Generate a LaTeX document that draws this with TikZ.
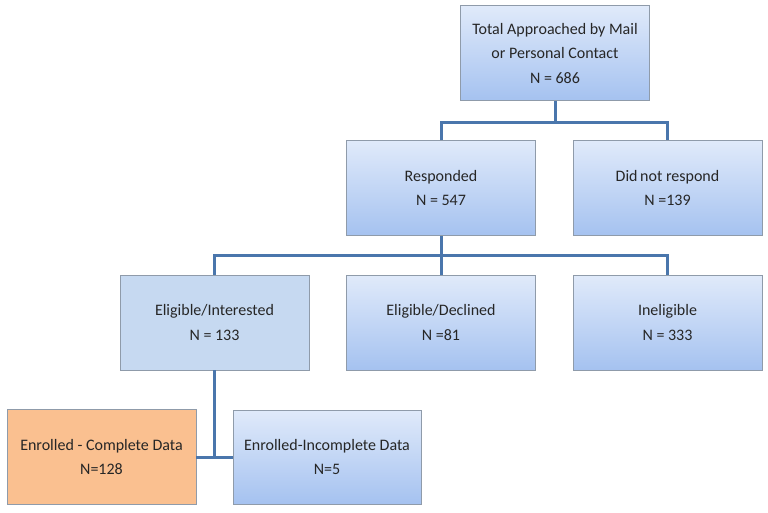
\documentclass[tikz,border=0pt]{standalone}
\usepackage{fontspec}
\setmainfont{Carlito}
\definecolor{conn}{HTML}{4A76AC}
\definecolor{gtop}{HTML}{E0EAFA}
\definecolor{gbot}{HTML}{A5C2F0}
\definecolor{flat}{HTML}{C6D9F1}
\definecolor{orng}{HTML}{FAC090}
\definecolor{bord}{HTML}{8F9BAA}
\definecolor{txt}{HTML}{262626}
\begin{document}
\begin{tikzpicture}[x=1pt,y=-1pt,
  box/.style={draw=bord, line width=0.8pt, minimum width=189pt, minimum height=95pt,
    align=center, inner sep=0pt, text=txt, font=\fontsize{16}{24.5}\selectfont},
  gbox/.style={box, top color=gtop, bottom color=gbot},
  link/.style={draw=conn, line width=3pt}]
\useasboundingbox (0,0) rectangle (768,512);
\node[gbox] (top) at (555,53) {Total Approached by Mail\\or Personal Contact\\N = 686};
\node[gbox] (resp) at (441,188) {Responded\\N = 547};
\node[gbox] (dnr) at (667.5,188) {Did\,not respond\\N =139};
\node[box, fill=flat] (ei) at (214.5,322.5) {Eligible/Interested\\N = 133};
\node[gbox] (ed) at (441,322.5) {Eligible/Declined\\N =81};
\node[gbox] (inel) at (667.5,322.5) {Ineligible\\N = 333};
\node[box, fill=orng] (ec) at (101.5,457) {Enrolled - Complete Data\\N=128};
\node[gbox, minimum width=188pt, minimum height=94pt] (ein) at (327,457) {Enrolled-Incomplete Data\\N=5};
\coordinate (j1) at (555,122);
\coordinate (j2) at (441,255);
\coordinate (j3) at (214.5,457);
\draw[link] (top.south) -- (j1);
\draw[link] (resp.north) |- (j1) -| (dnr.north);
\draw[link] (resp.south) -- (j2);
\draw[link] (ei.north) |- (j2) -| (inel.north);
\draw[link] (j2) -- (ed.north);
\draw[link] (ei.south) -- (j3);
\draw[link] (ec.east) -- (ein.west);
\end{tikzpicture}
\end{document}
